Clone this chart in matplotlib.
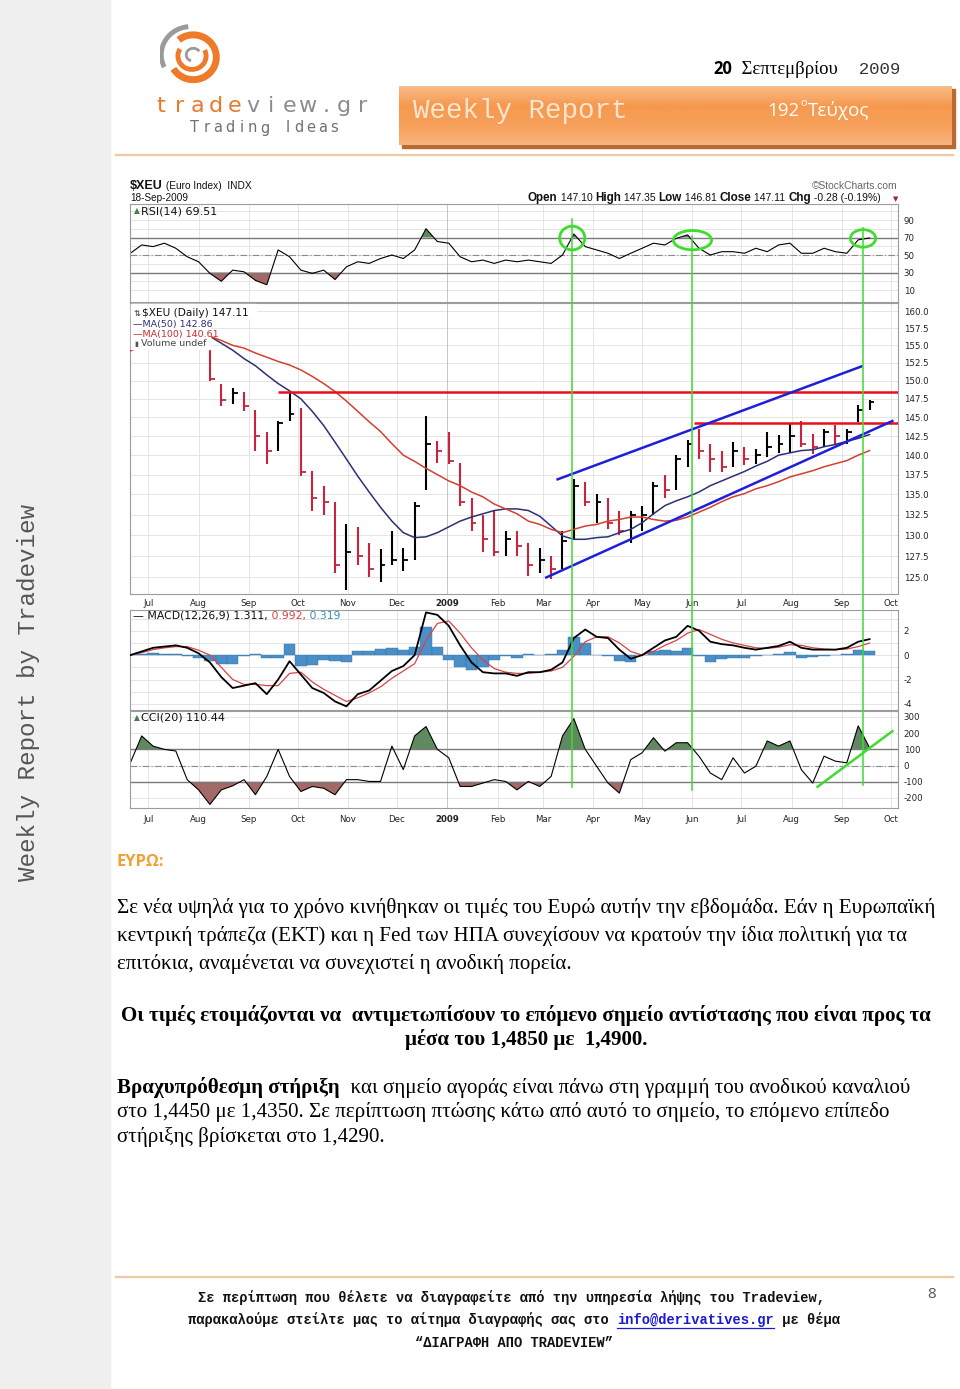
"""Tradeview weekly report page: Euro index chart (RSI / price / MACD / CCI) plus commentary."""

import matplotlib

matplotlib.use("Agg")
import matplotlib.pyplot as plt
import numpy as np
import pandas as pd
from matplotlib.colors import LinearSegmentedColormap
from matplotlib.lines import Line2D
from matplotlib.patches import Arc, Ellipse, Rectangle
from matplotlib.transforms import blended_transform_factory

W, H = 960, 1389
T0 = pd.Timestamp("2008-07-01")
nan = np.nan

# $XEU, one sample per week (Friday)
weeks = pd.date_range("2008-06-20", "2009-09-18", freq="W-FRI")
high = [nan, nan, nan, nan, nan, nan, 156.8, 155.0, 149.5, 149.0, 148.5, 146.0, 143.0, 144.5,
        148.5, 146.2, 138.0, 136.0, 134.0, 131.3, 131.0, 129.0, 128.3, 130.5, 128.5, 134.0,
        145.2, 141.8, 143.0, 139.0, 134.5, 132.5, 133.0, 130.5, 130.5, 129.0, 128.5, 127.5,
        130.5, 137.0, 136.5, 135.0, 134.5, 133.0, 133.0, 133.5, 136.5, 137.5, 140.0, 142.0,
        143.5, 141.5, 140.5, 141.7, 141.0, 140.8, 143.0, 142.7, 144.3, 144.5, 142.8, 143.5,
        144.0, 143.5, 146.6, 147.4]
low = [nan, nan, nan, nan, nan, nan, 154.8, 150.0, 146.5, 146.8, 145.8, 140.5, 138.9, 140.5,
       144.5, 137.3, 133.0, 132.5, 125.5, 123.6, 126.5, 125.0, 124.5, 126.5, 125.8, 127.0,
       135.5, 139.0, 138.8, 133.5, 130.5, 128.0, 127.5, 127.5, 127.5, 125.2, 125.5, 124.8,
       126.0, 129.5, 133.5, 131.5, 130.8, 130.0, 129.0, 130.5, 132.5, 134.5, 135.5, 138.5,
       139.5, 137.8, 137.8, 138.5, 138.7, 138.8, 139.8, 140.3, 140.3, 141.0, 140.2, 141.0,
       141.3, 141.5, 144.4, 146.0]
close = [nan, nan, nan, nan, nan, nan, 155.4, 150.2, 147.3, 148.3, 146.5, 142.5, 140.5, 144.2,
         145.5, 137.8, 134.5, 134.0, 126.5, 128.0, 127.5, 126.0, 126.5, 127.0, 127.0, 133.5,
         141.5, 140.5, 139.3, 134.0, 131.5, 129.5, 128.0, 129.5, 128.7, 126.5, 127.0, 126.0,
         129.3, 136.0, 134.0, 134.0, 131.5, 130.5, 132.5, 132.5, 136.0, 135.5, 139.5, 141.5,
         140.5, 139.5, 138.5, 140.5, 139.5, 140.0, 141.0, 141.5, 142.5, 141.5, 141.0, 143.0,
         142.5, 143.0, 146.0, 147.1]
ma50 = [nan, nan, nan, nan, nan, nan, nan, 156.3, 155.3, 154.3, 153.1, 152.1, 150.8, 149.6,
        148.6, 147.5, 145.8, 143.9, 141.7, 139.5, 137.3, 135.3, 133.4, 131.7, 130.3, 129.7,
        129.8, 130.3, 131.0, 131.7, 132.2, 132.6, 133.0, 133.2, 133.2, 133.0, 132.3, 131.1,
        129.9, 129.5, 129.5, 129.7, 129.8, 130.3, 130.7, 131.5, 132.6, 133.6, 134.2, 134.7,
        135.3, 136.1, 136.7, 137.3, 137.9, 138.6, 139.2, 140.0, 140.3, 140.6, 140.7, 141.1,
        141.4, 141.8, 142.2, 142.7]
ma100 = [154.2, 154.8, nan, nan, nan, nan, nan, 156.3, 155.7, 155.0, 154.6, 153.9, 153.3, 152.7,
         152.2, 151.5, 150.6, 149.6, 148.5, 147.2, 145.8, 144.4, 143.1, 141.5, 140.0, 139.2,
         138.3, 137.5, 136.7, 136.1, 135.3, 134.7, 133.8, 133.2, 132.6, 131.7, 131.3, 130.7,
         130.3, 130.7, 131.1, 131.3, 131.7, 131.9, 132.2, 132.2, 131.9, 131.7, 131.8, 132.2,
         132.8, 133.4, 134.1, 134.7, 135.1, 135.7, 136.1, 136.6, 137.2, 137.6, 138.0, 138.5,
         138.9, 139.3, 140.0, 140.6]
rsi = [52, 61.5, 59.6, 63.5, 57.7, 48, 42.3, 29, 20, 32.7, 30.8, 21, 16, 55.8, 48, 32.7, 29,
       32.7, 22, 36.5, 42.3, 40.4, 46, 50, 46, 55.8, 80, 65.4, 63.5, 48, 42.3, 44.2, 40.4, 44.2,
       42.3, 44.2, 42.3, 40.4, 50, 74, 59.6, 55.8, 52, 46, 52, 57.7, 63.5, 61.5, 69, 73, 57.7,
       50, 53.8, 53.8, 52, 57.7, 53.8, 61.5, 63.5, 52, 52, 57.7, 53.8, 52, 67.3, 69.5]
macd = [0, 0.3, 0.6, 0.7, 0.8, 0.6, 0.15, -0.6, -1.8, -2.7, -2.5, -2.3, -3.2, -2.0, -0.5, -1.6,
        -2.7, -3.1, -3.8, -4.2, -3.2, -2.9, -2.1, -1.3, -0.9, 0.0, 3.5, 3.3, 2.4, 0.8, -0.6,
        -1.4, -1.5, -1.5, -1.7, -1.4, -1.4, -1.2, -0.6, 1.4, 2.1, 1.5, 1.4, 0.45, -0.3, 0.0,
        0.6, 1.2, 1.5, 2.4, 2.0, 1.1, 0.9, 0.8, 0.6, 0.45, 0.6, 0.75, 1.1, 0.6, 0.45, 0.45,
        0.45, 0.6, 1.1, 1.31]
macd_signal = [0, 0.2, 0.45, 0.6, 0.7, 0.7, 0.4, 0.0, -1.0, -2.0, -2.4, -2.4, -2.5, -2.5, -1.5,
               -1.4, -2.2, -2.8, -3.3, -3.8, -3.5, -3.1, -2.6, -1.9, -1.3, -0.7, 1.2, 2.6, 2.8,
               1.8, 0.6, -0.4, -1.1, -1.4, -1.5, -1.5, -1.4, -1.3, -1.0, -0.1, 1.1, 1.5, 1.5,
               1.0, 0.3, 0.0, 0.3, 0.8, 1.2, 1.8, 2.1, 1.7, 1.3, 1.0, 0.8, 0.6, 0.55, 0.65,
               0.85, 0.8, 0.6, 0.5, 0.45, 0.5, 0.7, 0.99]
macd_hist = [0.05, 0.1, 0.15, 0.1, 0.1, -0.1, -0.25, -0.5, -0.7, -0.7, -0.1, 0.1, -0.2, -0.2,
             0.9, -0.9, -0.8, -0.4, -0.5, -0.6, 0.3, 0.3, 0.5, 0.6, 0.4, 0.7, 2.3, 0.7, -0.4,
             -1.0, -1.2, -1.0, -0.4, -0.1, -0.2, 0.1, 0.0, 0.1, 0.4, 1.5, 1.0, 0.0, -0.1, -0.5,
             -0.6, 0.0, 0.3, 0.4, 0.3, 0.6, -0.1, -0.6, -0.3, -0.2, -0.2, -0.1, 0.05, 0.1, 0.25,
             -0.2, -0.15, -0.05, 0.0, 0.1, 0.4, 0.32]
cci = [17, 183, 120, 100, 90, -87, -150, -240, -150, -125, -87, -180, -67, 100, -67, -160, -129,
       -140, -180, -87, -87, -98, -98, 120, -25, 183, 241, 100, 48, -129, -129, -108, -87, -98,
       -150, -98, -129, -67, 183, 290, 100, -4, -108, -170, 37, 79, 172, 89, 141, 141, 58, -46,
       -87, 48, -46, -4, 152, 120, 152, -25, -108, 58, 27, 17, 245, 110]

# analyst's drawings on the chart
resist_levels = [148.5, 144.3]
resist_from = ["2008-09-19", "2009-06-02"]
channel_upper_days = ["2009-03-10", "2009-09-13"]
channel_upper_vals = [136.9, 152.0]
channel_lower_days = ["2009-03-03", "2009-10-02"]
channel_lower_vals = [125.0, 144.5]
signal_days = ["2009-03-19", "2009-06-01", "2009-09-14"]
rsi_circle_levels = [69.4, 67.0, 69.0]
cci_trend_days = ["2009-08-17", "2009-10-02"]
cci_trend_vals = [-131, 212]

months = pd.date_range("2008-07-01", "2009-10-01", freq="MS")
month_labels = ["2009" if d.month == 1 else d.strftime("%b") for d in months]

GRID = "#e0e0e0"
RED = "#c8233f"
GREEN = "#3ddc2e"
SANS = ["DejaVu Sans"]
ARIAL = ["Liberation Sans", "DejaVu Sans"]
SERIF = ["Liberation Serif", "DejaVu Serif"]
MONO = ["Liberation Mono", "DejaVu Sans Mono"]
CALIBRI = ["Open Sans", "DejaVu Sans"]


def days(d):
    if isinstance(d, str):
        d = [d]
    return np.asarray((pd.to_datetime(list(d)) - T0).days, dtype=float)


tw = days(weeks)
mt = days(months)
XLIM = (days("2008-06-20")[0] - 0.2, 461.5)

fig = plt.figure(figsize=(W / 100, H / 100), dpi=100)
R = fig.canvas.get_renderer()


def fbox(x0, y0, x1, y1):
    return [x0 / W, 1 - y1 / H, (x1 - x0) / W, (y1 - y0) / H]


def put(x, y, s, **kw):
    kw.setdefault("va", "center")
    kw.setdefault("zorder", 6)
    return fig.text(x / W, 1 - y / H, s, **kw)


def wid(t):
    return t.get_window_extent(R).width


def fit(x, y, s, target, **kw):
    t = put(x, y, s, fontsize=10, **kw)
    size = 10 * target / wid(t)
    t.set_fontsize(size)
    return t, size


def run(x, y, parts, center=False, **kw):
    texts = [put(x, y, s, **{**kw, **extra}) for s, extra in parts]
    widths = [wid(t) for t in texts]
    if center:
        x = x - sum(widths) / 2
    for t, w in zip(texts, widths):
        t.set_x(x / W)
        x += w
    return texts


def hline(x0, x1, y, **kw):
    fig.add_artist(Line2D([x0 / W, x1 / W], [1 - y / H] * 2, **kw))


def prect(x0, y0, x1, y1, **kw):
    fig.add_artist(Rectangle((x0 / W, 1 - y1 / H), (x1 - x0) / W, (y1 - y0) / H,
                             transform=fig.transFigure, **kw))


# ---------------------------------------------------------------- page frame
prect(0, 0, 110, H, color="#efefef", zorder=0)
put(29, 693, "Weekly Report by Tradeview", rotation=90, ha="center", family=MONO,
    fontsize=17.5, color="#555555")

# logo
ax_logo = fig.add_axes(fbox(154, 24, 230, 88))
ax_logo.set_xlim(-1.25, 1.25)
ax_logo.set_ylim(-1.25, 1.25)
ax_logo.set_aspect("equal")
ax_logo.axis("off")
ax_logo.add_patch(Arc((-0.05, 0.05), 2.3, 2.2, theta1=95, theta2=205, color="#9a9a9a", lw=3.5))
ax_logo.add_patch(Arc((0.05, -0.05), 1.8, 1.75, theta1=-150, theta2=130, color="#ee7a2a", lw=5))
ax_logo.add_patch(Arc((0.0, 0.0), 1.1, 1.05, theta1=150, theta2=25, color="#ee7a2a", lw=3.5))
ax_logo.add_patch(Arc((0.05, 0.05), 0.55, 0.5, theta1=30, theta2=250, color="#9a9a9a", lw=2))

for i, ch in enumerate("tradeview.gr"):
    put(152 + 18.3 * (i + 0.5), 106, ch, ha="center", family=SANS, fontsize=16,
        color="#e8782a" if i < 5 else "#8c8c8c")
for i, ch in enumerate("Trading Ideas"):
    put(189 + 11.6 * (i + 0.5), 128, ch, ha="center", family=SANS, fontsize=10.5,
        color="#707070")

# date
run(713, 69, [("20", dict(family=CALIBRI, weight="bold", fontsize=12)),
              ("  Σεπτεμβρίου", dict(family=SERIF, fontsize=13.5)),
              ("  2009", dict(family=MONO, fontsize=12.5, color="#333333"))], color="black")

# orange banner
prect(402, 89, 955, 148, color="#b96a33", zorder=1)
ax_ban = fig.add_axes(fbox(399, 86, 952, 145))
ax_ban.set_zorder(2)
ax_ban.imshow(np.linspace(0, 1, 64)[:, None], aspect="auto", extent=[0, 1, 0, 1],
              cmap=LinearSegmentedColormap.from_list(
                  "banner", ["#f9bb88", "#f6994e", "#f6a05a", "#f9b47e"]))
ax_ban.axis("off")
fit(413, 111, "Weekly Report", 216, family=MONO, color="#fde6d0")
t192 = put(767, 111, "192", family=CALIBRI, fontsize=13.5, color="white")
x192 = 767 + wid(t192)
put(x192 + 1, 103, "o", family=CALIBRI, fontsize=8, color="white")
put(x192 + 9, 111, "Τεύχος", family=CALIBRI, fontsize=13.5, color="white")

hline(116, 953, 155, color="#f0c8a2", lw=1.6)
hline(116, 953, 1277, color="#f0c8a2", lw=1.6)


# ---------------------------------------------------------------- chart panels
def panel(x0, y0, x1, y1, ylim, yticks, ylabels, grid, log=False, xlabels=False):
    ax = fig.add_axes(fbox(x0, y0, x1, y1))
    if log:
        ax.set_yscale("log")
    ax.set_xlim(*XLIM)
    ax.set_ylim(*ylim)
    ax.yaxis.tick_right()
    ax.set_yticks(yticks)
    ax.set_yticklabels(ylabels)
    ax.minorticks_off()
    ax.tick_params(axis="y", length=0, pad=4, labelsize=6.2, labelcolor="#222222")
    ax.set_xticks(mt)
    ax.set_xticklabels(month_labels if xlabels else [])
    ax.tick_params(axis="x", length=0, pad=3.5, labelsize=6.2, labelcolor="#222222")
    for lab in ax.get_xticklabels():
        if lab.get_text() == "2009":
            lab.set_fontweight("bold")
    for gy in grid:
        ax.axhline(gy, color=GRID, lw=0.6, zorder=0.5)
    for gx, lab in zip(mt, month_labels):
        ax.axvline(gx, color="#bdbdbd" if lab == "2009" else GRID, lw=0.6, zorder=0.5)
    for sp in ax.spines.values():
        sp.set_color("#9c9c9c")
        sp.set_linewidth(0.8)
    return ax


# RSI
ax_rsi = panel(130, 204, 898, 302, (-3.7, 108.3), [10, 30, 50, 70, 90],
               ["10", "30", "50", "70", "90"], range(10, 101, 10))
r = np.array(rsi, dtype=float)
ax_rsi.fill_between(tw, r, 70, where=r >= 70, interpolate=True, color="#5f8a5f", lw=0, zorder=1)
ax_rsi.fill_between(tw, r, 30, where=r <= 30, interpolate=True, color="#a36868", lw=0, zorder=1)
for lvl in (30, 70):
    ax_rsi.axhline(lvl, color="#7a7a7a", lw=1.0, zorder=1)
ax_rsi.axhline(50, color="#8a8a8a", lw=0.8, dashes=(6, 2, 1, 2), zorder=1)
ax_rsi.plot(tw, r, color="black", lw=0.8, zorder=2)

# price
price_ticks = np.arange(125.0, 160.1, 2.5)
ax_px = panel(130, 303, 898, 594, (123.1, 161.2), price_ticks,
              [f"{v:.1f}" for v in price_ticks], price_ticks, log=True, xlabels=True)
c = np.array(close, dtype=float)
bar_col = np.where(c < np.roll(c, 1), RED, "black")
ax_px.vlines(tw, low, high, colors=bar_col, lw=1.5, zorder=2)
ax_px.hlines(c, tw, tw + 3, colors=bar_col, lw=1.3, zorder=2)
ax_px.plot(tw, ma50, color="#2e3076", lw=1.1, zorder=3)
ax_px.plot(tw, ma100, color="#d2402e", lw=1.1, zorder=3)
for lvl, start in zip(resist_levels, resist_from):
    ax_px.hlines(lvl, days(start)[0], XLIM[1], color="#e8101a", lw=1.8, zorder=4)
ax_px.plot(days(channel_upper_days), channel_upper_vals, color="#1f1fd8", lw=1.8, zorder=4)
ax_px.plot(days(channel_lower_days), channel_lower_vals, color="#1f1fd8", lw=1.8, zorder=4)

# MACD
ax_macd = panel(130, 610, 898, 710, (-4.5, 3.7), [2, 0, -2, -4], ["2", "0", "-2", "-4"],
                [3, 2, 1, 0, -1, -2, -3, -4])
ax_macd.bar(tw, macd_hist, width=7, color="#4a8fc8", edgecolor="#3575a8", lw=0.3, zorder=1)
ax_macd.plot(tw, macd_signal, color="#d64545", lw=0.9, zorder=2)
ax_macd.plot(tw, macd, color="black", lw=1.3, zorder=3)

# CCI
ax_cci = panel(130, 711, 898, 808, (-262, 337), [300, 200, 100, 0, -100, -200],
               ["300", "200", "100", "0", "-100", "-200"], [300, 200, 100, 0, -100, -200],
               xlabels=True)
ax_cci.tick_params(axis="x", pad=5)
k = np.array(cci, dtype=float)
ax_cci.fill_between(tw, k, 100, where=k >= 100, interpolate=True, color="#5f8a5f", lw=0, zorder=1)
ax_cci.fill_between(tw, k, -100, where=k <= -100, interpolate=True, color="#a36868", lw=0, zorder=1)
for lvl in (100, -100):
    ax_cci.axhline(lvl, color="#7a7a7a", lw=1.0, zorder=1)
ax_cci.axhline(0, color="#8a8a8a", lw=0.8, dashes=(6, 2, 1, 2), zorder=1)
ax_cci.plot(tw, k, color="black", lw=0.8, zorder=2)
ax_cci.plot(days(cci_trend_days), cci_trend_vals, color=GREEN, lw=1.8, zorder=4, clip_on=False)

# green signal verticals across the panels + circles on RSI
trans = blended_transform_factory(ax_px.transData, fig.transFigure)
for d, top, bot in zip(signal_days, [219, 236, 228], [787, 790, 785]):
    fig.add_artist(Line2D([days(d)[0]] * 2, [1 - top / H, 1 - bot / H], transform=trans,
                          color=GREEN, lw=1.1, zorder=4))
for d, lvl, w, h in zip(signal_days, rsi_circle_levels, [15.5, 23.5, 15.5], [27, 22, 20]):
    ax_rsi.add_patch(Ellipse((days(d)[0], lvl), w, h, fill=False, edgecolor=GREEN, lw=2,
                             zorder=5, clip_on=False))

# chart captions
run(130, 186, [("$XEU", dict(weight="bold", fontsize=9)),
               (" (Euro Index)  INDX", dict(fontsize=7.3))], family=ARIAL, color="#111111")
put(130, 198, "18-Sep-2009", family=ARIAL, fontsize=7.2, color="#111111")
put(898, 186, "©StockCharts.com", ha="right", family=ARIAL, fontsize=7.4, color="#666666")
B = dict(weight="bold", fontsize=8.4)
N = dict(fontsize=7.5)
run(528, 198, [("Open", B), (" 147.10 ", N), ("High", B), (" 147.35 ", N), ("Low", B),
               (" 146.81 ", N), ("Close", B), (" 147.11 ", N), ("Chg", B),
               (" -0.28 (-0.19%)", N)], family=ARIAL, color="#111111")
put(893, 199, "▼", family=SANS, fontsize=5, color="#a0203a")

put(134, 211, "▲", family=SANS, fontsize=5.5, color="#4d7a4d")
put(141, 211, "RSI(14) 69.51", family=SANS, fontsize=8, color="#111111")

# legend backgrounds hide the start of the price data, as on the original chart
prect(131, 304, 256, 318, color="white", zorder=5)
prect(131, 304, 210, 349, color="white", zorder=5)
put(134, 313, "⇅", family=SANS, fontsize=6, color="#333333")
put(142, 313, "$XEU (Daily) 147.11", family=SANS, fontsize=7.6, color="#111111")
put(133, 324, "—MA(50) 142.86", family=SANS, fontsize=6.8, color="#2e3076")
put(133, 334, "—MA(100) 140.61", family=SANS, fontsize=6.8, color="#cc2a2a")
put(134, 344, "▮", family=SANS, fontsize=5, color="#555555")
put(141, 344, "Volume undef", family=SANS, fontsize=6.8, color="#444444")

run(133, 616, [("— MACD(12,26,9) 1.311,", dict(color="#111111")),
               (" 0.992,", dict(color="#d64545")), (" 0.319", dict(color="#3a8fb8"))],
    family=SANS, fontsize=7.8)
put(134, 718, "▲", family=SANS, fontsize=5.5, color="#4d7a4d")
put(141, 718, "CCI(20) 110.44", family=SANS, fontsize=8, color="#111111")

# ---------------------------------------------------------------- commentary
fit(116, 862, "ΕΥΡΩ:", 47, family=CALIBRI, weight="bold", color="#f2a033")

_, body = fit(117, 908, "Σε νέα υψηλά για το χρόνο κινήθηκαν οι τιμές του Ευρώ αυτήν την "
              "εβδομάδα. Εάν η Ευρωπαϊκή", 818, family=SERIF, color="black")
put(117, 936, "κεντρική τράπεζα (ΕΚΤ) και η Fed των ΗΠΑ συνεχίσουν να κρατούν την ίδια "
    "πολιτική για τα", family=SERIF, fontsize=body, color="black")
put(117, 964, "επιτόκια, αναμένεται να συνεχιστεί η ανοδική πορεία.", family=SERIF,
    fontsize=body, color="black")

_, bold = fit(526, 1016, "Οι τιμές ετοιμάζονται να  αντιμετωπίσουν το επόμενο σημείο "
              "αντίστασης που είναι προς τα", 813, ha="center", family=SERIF,
              weight="bold", color="black")
put(526, 1040, "μέσα του 1,4850 με  1,4900.", ha="center", family=SERIF, weight="bold",
    fontsize=bold, color="black")

run(117, 1088, [("Βραχυπρόθεσμη στήριξη", dict(weight="bold")),
                ("  και σημείο αγοράς είναι πάνω στη γραμμή του ανοδικού καναλιού", {})],
    family=SERIF, fontsize=body, color="black")
put(117, 1112, "στο 1,4450 με 1,4350. Σε περίπτωση πτώσης κάτω από αυτό το σημείο, το "
    "επόμενο επίπεδο", family=SERIF, fontsize=body, color="black")
put(117, 1137, "στήριξης βρίσκεται στο 1,4290.", family=SERIF, fontsize=body, color="black")

# ---------------------------------------------------------------- footer
_, foot = fit(512, 1298, "Σε περίπτωση που θέλετε να διαγραφείτε από την υπηρεσία λήψης "
              "του Tradeview,", 632, ha="center", family=MONO, weight="bold", color="#111111")
line2 = run(514, 1320, [("παρακαλούμε στείλτε μας το αίτημα διαγραφής σας στο ", {}),
                        ("info@derivatives.gr", dict(color="#1a1ad0")),
                        (" με θέμα", {})],
            center=True, family=MONO, weight="bold", fontsize=foot, color="#111111")
link = line2[1].get_window_extent(R)
hline(link.x0, link.x1, 1328, color="#1a1ad0", lw=0.9, zorder=6)
put(514, 1343, "“ΔΙΑΓΡΑΦΗ ΑΠΟ TRADEVIEW”", ha="center", family=MONO, weight="bold",
    fontsize=foot, color="#111111")
put(932, 1295, "8", ha="center", family=CALIBRI, fontsize=11, color="#555555")

fig.savefig("out.png", dpi=100)
